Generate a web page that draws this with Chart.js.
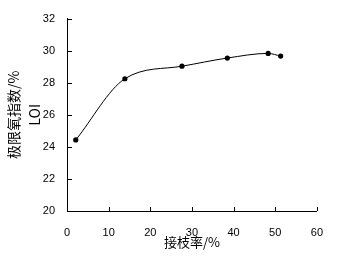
<!DOCTYPE html>
<html><head><meta charset="utf-8">
<script src="https://cdn.jsdelivr.net/npm/chart.js@4"></script>
<style>html,body{margin:0;padding:0;background:#fff}#wrap{width:338px;height:259px}</style>
</head><body><div id="wrap"><canvas id="c" width="338" height="259"></canvas></div>
<script>
const graftRate = [2.1, 13.9, 27.6, 38.5, 48.3, 51.3];
const loi = [24.43, 28.25, 29.03, 29.54, 29.83, 29.66];
const xTicks = [0, 10, 20, 30, 40, 50, 60];
const yTicks = [20, 22, 24, 26, 28, 30, 32];
const xTitle = '接枝率/%';
const yTitle = ['极限氧指数/%', 'LOI'];

const tickFont = {family: 'Liberation Sans', size: 11};
const titleFont = {family: 'Noto Sans CJK SC', size: 13};

const innerTicks = {
  id: 'innerTicks',
  afterDatasetsDraw(chart) {
    const ctx = chart.ctx, x = chart.scales.x, y = chart.scales.y;
    ctx.save();
    ctx.strokeStyle = '#000'; ctx.lineWidth = 1;
    ctx.beginPath();
    x.ticks.forEach((t, i) => { const px = Math.round(x.getPixelForTick(i)) + 0.5; ctx.moveTo(px, x.top); ctx.lineTo(px, x.top - 4); });
    y.ticks.forEach((t, i) => { const py = Math.round(y.getPixelForTick(i)) + 0.5; ctx.moveTo(y.right, py); ctx.lineTo(y.right + 5, py); });
    ctx.stroke();
    ctx.restore();
  }
};

new Chart(document.getElementById('c'), {
  type: 'line',
  data: {
    datasets: [{
      data: graftRate.map((v, i) => ({x: v, y: loi[i]})),
      borderColor: '#000', borderWidth: 1,
      backgroundColor: '#000', pointRadius: 2.6, pointBackgroundColor: '#000', pointBorderWidth: 0,
      tension: 0.4, cubicInterpolationMode: 'monotone', fill: false
    }]
  },
  options: {
    responsive: false, animation: false, devicePixelRatio: 1,
    layout: {padding: {top: 16, right: 18, left: 0, bottom: 0}},
    plugins: {legend: {display: false}, tooltip: {enabled: false}},
    scales: {
      x: {
        type: 'linear', min: 0, max: 60,
        afterBuildTicks: s => { s.ticks = xTicks.map(v => ({value: v})); },
        afterFit: s => { s.height = 48; },
        grid: {display: true, drawOnChartArea: false, drawTicks: false},
        border: {display: true, color: '#000', width: 1},
        ticks: {color: '#000', font: tickFont, padding: 15, maxRotation: 0},
        title: {display: true, text: xTitle, color: '#000', font: titleFont, padding: {top: 0, bottom: 9}}
      },
      y: {
        type: 'linear', min: 20, max: 32,
        afterBuildTicks: s => { s.ticks = yTicks.map(v => ({value: v})); },
        afterFit: s => { s.width = 67; },
        grid: {display: true, drawOnChartArea: false, drawTicks: false},
        border: {display: true, color: '#000', width: 1},
        ticks: {color: '#000', font: tickFont, padding: 12},
        title: {display: true, text: yTitle, color: '#000', font: {family: 'Noto Sans CJK SC', size: 14, lineHeight: 1.45}, padding: {top: 4, bottom: 0}}
      }
    }
  },
  plugins: [innerTicks]
});
</script></body></html>
